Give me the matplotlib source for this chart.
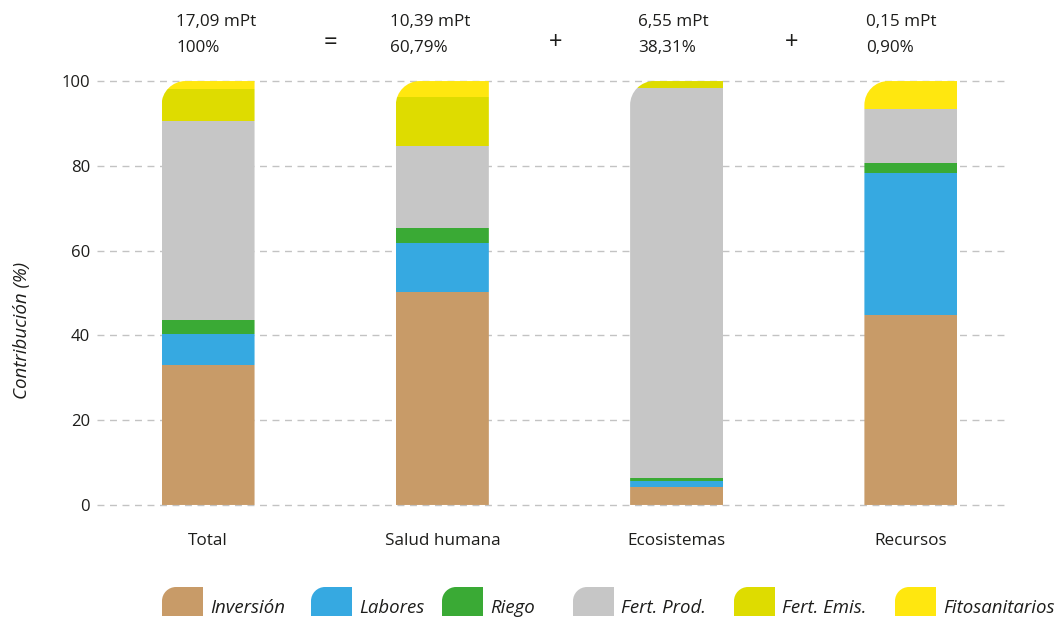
import matplotlib
matplotlib.use('Agg')
import matplotlib.pyplot as plt
from matplotlib.path import Path
from matplotlib.patches import PathPatch

plt.rcParams['font.family'] = ['Open Sans', 'DejaVu Sans']

categories = ['Total', 'Salud humana', 'Ecosistemas', 'Recursos']
inversion = [33.0, 50.2, 4.2, 44.8]
labores = [7.3, 11.6, 1.5, 33.5]
riego = [3.3, 3.5, 0.7, 2.4]
fert_prod = [47.0, 19.4, 91.9, 12.7]
fert_emis = [7.5, 11.5, 1.7, 0.0]
fitosanitarios = [1.9, 3.8, 0.0, 6.6]

impacts = ['17,09 mPt', '10,39 mPt', '6,55 mPt', '0,15 mPt']
shares = ['100%', '60,79%', '38,31%', '0,90%']
operators = ['=', '+', '+']

series = [
  ('Inversión', inversion, '#C89B68'),
  ('Labores', labores, '#36A9E1'),
  ('Riego', riego, '#3AAA35'),
  ('Fert. Prod.', fert_prod, '#C6C6C6'),
  ('Fert. Emis.', fert_emis, '#DEDC00'),
  ('Fitosanitarios', fitosanitarios, '#FFE70F'),
]

W, H, DPI = 1057, 620, 100
fig = plt.figure(figsize=(W / DPI, H / DPI), dpi=DPI)

# axes placed in pixels: x from 97 to 1010, y from 509 (bottom) to 77 (top)
ax_l, ax_r, ax_b, ax_t = 97, 1010, 509.2, 76.8
ax = fig.add_axes([ax_l / W, 1 - ax_b / H, (ax_r - ax_l) / W, (ax_b - ax_t) / H])
x_min, x_max = -0.474, 3.423
y_min, y_max = -1, 101
ax.set_xlim(x_min, x_max)
ax.set_ylim(y_min, y_max)

px_x = (ax_r - ax_l) / (x_max - x_min)
px_y = (ax_b - ax_t) / (y_max - y_min)


def rounded_top_left(x0, y0, w, h, rx, ry):
  k = 0.5523
  verts = [
    (x0, y0), (x0 + w, y0), (x0 + w, y0 + h), (x0 + rx, y0 + h),
    (x0 + rx * (1 - k), y0 + h), (x0, y0 + h - ry * (1 - k)), (x0, y0 + h - ry),
    (x0, y0),
  ]
  codes = [Path.MOVETO, Path.LINETO, Path.LINETO, Path.LINETO,
           Path.CURVE4, Path.CURVE4, Path.CURVE4, Path.CLOSEPOLY]
  return Path(verts, codes)


xs = list(range(len(categories)))
width = 0.397
radius_px = 24

ax.set_yticks([0, 20, 40, 60, 80, 100])
ax.grid(axis='y', color='#C3C3C3', linestyle=(0, (5, 4)), linewidth=1)
ax.set_axisbelow(True)

bottoms = [0.0] * len(categories)
containers = []
for name, values, color in series:
  bars = ax.bar(xs, values, width, bottom=bottoms, color=color, linewidth=0, zorder=2)
  containers.append(bars)
  bottoms = [b + v for b, v in zip(bottoms, values)]

for i, x in enumerate(xs):
  clip = rounded_top_left(x - width / 2, 0, width, bottoms[i],
                          radius_px / px_x, radius_px / px_y)
  for bars in containers:
    bars[i].set_clip_path(clip, ax.transData)

for side in ['top', 'right', 'left', 'bottom']:
  ax.spines[side].set_visible(False)
ax.tick_params(axis='both', length=0, labelsize=12, colors='#1d1d1b')
ax.tick_params(axis='y', pad=5)
ax.tick_params(axis='x', pad=17, labelsize=12.3)
ax.set_xticks(xs)
ax.set_xticklabels(categories)
ax.set_ylabel('Contribución (%)', style='italic', fontsize=13.5, color='#1d1d1b')
ax.yaxis.set_label_coords(-0.072, 0.414)

# header with impact totals
header_x = [176, 390, 638, 866]
for hx, imp, sh in zip(header_x, impacts, shares):
  fig.text(hx / W, 1 - 22 / H, imp, fontsize=12.3, color='#1d1d1b', va='center', ha='left')
  fig.text(hx / W, 1 - 48 / H, sh, fontsize=12.3, color='#1d1d1b', va='center', ha='left')
for ox, op in zip([330, 556, 792], operators):
  fig.text(ox / W, 1 - 43 / H, op, fontsize=17, color='#1d1d1b', va='center', ha='center')

# legend with the same rounded swatches
lg = fig.add_axes([0, 0, 1, 1])
lg.set_xlim(0, W)
lg.set_ylim(H, 0)
lg.axis('off')
legend_x = [162, 311, 442, 573, 734, 895]
for lx, (name, values, color) in zip(legend_x, series):
  sw = rounded_top_left(lx, 616, 41, -29, 14, -14)
  lg.add_patch(PathPatch(sw, facecolor=color, edgecolor='none'))
  lg.text(lx + 48, 608, name, style='italic', fontsize=13.4, color='#1d1d1b',
          va='center', ha='left')

fig.savefig('out.png', dpi=DPI)
